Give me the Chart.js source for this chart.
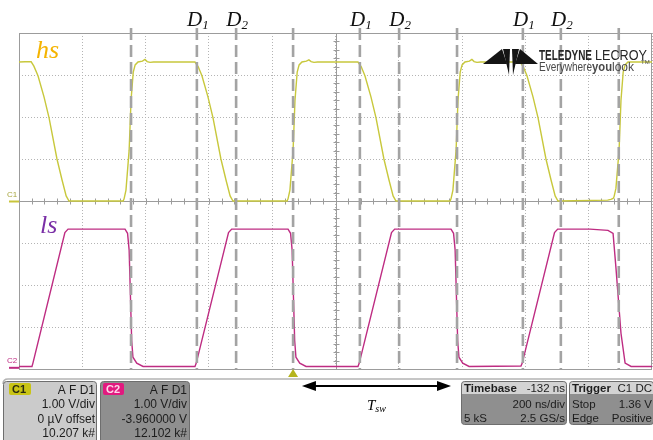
<!DOCTYPE html>
<html>
<head>
<meta charset="utf-8">
<script src="https://cdn.jsdelivr.net/npm/chart.js@4.4.1/dist/chart.umd.min.js"></script>
<style>
  html, body { margin: 0; padding: 0; background: #fff; }
  #wrap { width: 653px; height: 440px; }
</style>
</head>
<body>
<div id="wrap"><canvas id="scope" width="653" height="440"></canvas></div>
<script>
// time in ns from the left edge of the screen (200 ns/div, 10 div)
const hsTime = [0, 38, 47, 60, 79, 95, 120, 136, 149, 158,
  329, 332, 338, 348, 354, 361, 367, 376, 390, 398, 405, 414, 425,
  556, 566, 578, 597, 613, 638, 654, 667, 676,
  847, 850, 856, 866, 872, 879, 885, 894, 908, 916, 923, 932, 943,
  1071, 1081, 1093, 1112, 1128, 1153, 1169, 1182, 1191,
  1362, 1365, 1371, 1381, 1387, 1394, 1400, 1409, 1423, 1431, 1438, 1447, 1458,
  1583, 1593, 1605, 1624, 1640, 1665, 1681, 1694, 1703,
  1860, 1870, 1877, 1880, 1886, 1896, 1902, 1909, 1915, 1924, 2000];
const hsVolt = [3.31, 3.32, 3.21, 2.98, 2.48, 1.98, 1.0, 0.5, 0.12, 0,
  0, 0.05, 0.26, 1.21, 2.4, 3.07, 3.24, 3.31, 3.33, 3.37, 3.32, 3.30, 3.31,
  3.31, 3.2, 2.98, 2.48, 1.98, 1.0, 0.5, 0.12, 0,
  0, 0.05, 0.26, 1.21, 2.4, 3.07, 3.24, 3.31, 3.33, 3.36, 3.32, 3.30, 3.31,
  3.31, 3.2, 2.98, 2.48, 1.98, 1.0, 0.5, 0.12, 0,
  0, 0.05, 0.26, 1.21, 2.4, 3.07, 3.24, 3.31, 3.33, 3.37, 3.32, 3.30, 3.31,
  3.31, 3.2, 2.98, 2.48, 1.98, 1.0, 0.5, 0.12, 0,
  0.02, 0.04, 0.06, 0.1, 0.3, 1.21, 2.4, 3.07, 3.24, 3.31, 3.31];

const lsTime = [0, 41, 44, 145, 155,
  335, 343, 348, 356, 360, 372, 392,
  556, 560, 662, 672,
  850, 858, 863, 871, 875, 887, 907,
  1071, 1075, 1177, 1187,
  1365, 1373, 1378, 1386, 1390, 1402, 1422,
  1586, 1590, 1692, 1702,
  1804, 1861, 1877, 1886, 1902, 1915, 1934, 2000];
const lsVolt = [0.02, 0.02, 0.1, 3.21, 3.29,
  3.29, 3.19, 2.79, 0.64, 0.24, 0.1, 0.02,
  0.02, 0.1, 3.21, 3.29,
  3.29, 3.19, 2.79, 0.64, 0.24, 0.1, 0.02,
  0.02, 0.1, 3.21, 3.29,
  3.29, 3.19, 2.79, 0.64, 0.24, 0.1, 0.02,
  0.03, 0.1, 3.21, 3.29,
  3.29, 3.26, 3.19, 2.38, 0.81, 0.1, 0.02, 0.02];
const lsOffset = -3.96; // C2 offset

const cursorTimes = [354, 562, 686, 866, 1077, 1201, 1384, 1592, 1712, 1895];
const cursorNames = ["", "1", "2", "", "1", "2", "", "1", "2", ""];
const tswSpan = [894, 1365];
const triggerTime = 866;

const c1Lines = ["A F D1", "1.00 V/div", "0 µV offset", "10.207 k#"];
const c2Lines = ["A F D1", "1.00 V/div", "-3.960000 V", "12.102 k#"];
const timebaseRows = [["Timebase", "-132 ns"], ["", "200 ns/div"], ["5 kS", "2.5 GS/s"]];
const triggerRows = [["Trigger", "C1 DC"], ["Stop", "1.36 V"], ["Edge", "Positive"]];

const hsPoints = hsTime.map((t, i) => ({ x: t, y: hsVolt[i] }));
const lsPoints = lsTime.map((t, i) => ({ x: t, y: lsVolt[i] + lsOffset }));
const cursorPoints = [];
cursorTimes.forEach(t => {
  cursorPoints.push({ x: t, y: 4.12 }, { x: t, y: -4 }, { x: t, y: null });
});

const SERIF = '"Liberation Serif", "Times New Roman", serif';
const SANS = '"Liberation Sans", Arial, sans-serif';

function panel(ctx, x, y, w, h, fill) {
  ctx.beginPath();
  ctx.roundRect(x, y, w, h, 3);
  ctx.fillStyle = fill;
  ctx.fill();
  ctx.strokeStyle = '#6e6e6e';
  ctx.lineWidth = 1;
  ctx.stroke();
}

const scopeDecor = {
  id: 'scopeDecor',
  beforeDatasetsDraw(chart) {
    const { ctx, chartArea: a, scales: { x, y } } = chart;
    ctx.save();
    ctx.strokeStyle = '#9c9c9c';
    ctx.lineWidth = 1;
    ctx.strokeRect(a.left + 0.5, a.top + 0.5, a.right - a.left - 1, a.bottom - a.top);
    // centre axes with minor ticks
    const y0 = Math.round(y.getPixelForValue(0)) + 0.5;
    const x0 = Math.round(x.getPixelForValue(1000)) + 0.5;
    ctx.beginPath();
    ctx.moveTo(a.left, y0); ctx.lineTo(a.right, y0);
    ctx.moveTo(x0, a.top); ctx.lineTo(x0, a.bottom);
    for (let t = 40; t < 2000; t += 40) {
      const px = Math.round(x.getPixelForValue(t)) + 0.5;
      ctx.moveTo(px, y0 - 3); ctx.lineTo(px, y0 + 3);
    }
    for (let v = -3.8; v < 4; v += 0.2) {
      const py = Math.round(y.getPixelForValue(v)) + 0.5;
      ctx.moveTo(x0 - 3, py); ctx.lineTo(x0 + 3, py);
    }
    ctx.stroke();
    ctx.restore();
  },
  afterDraw(chart) {
    const { ctx, chartArea: a, scales: { x, y } } = chart;
    ctx.save();

    // trace labels
    ctx.fillStyle = '#fff';
    ctx.fillRect(26, 36, 39, 25);
    ctx.textBaseline = 'alphabetic';
    ctx.textAlign = 'left';
    ctx.font = 'italic 26px ' + SERIF;
    ctx.fillStyle = '#f5b400';
    ctx.fillText('hs', 36, 58);
    ctx.fillStyle = '#7a2fa6';
    ctx.fillText('ls', 40, 233);

    // cursor labels D1 / D2
    cursorTimes.forEach((t, i) => {
      const n = cursorNames[i];
      if (!n) return;
      const px = x.getPixelForValue(t);
      ctx.font = 'italic 21px ' + SERIF;
      const wD = ctx.measureText('D').width;
      ctx.font = 'italic 13px ' + SERIF;
      const wS = ctx.measureText(n).width;
      const left = px - (wD + wS) / 2 + 1;
      ctx.fillStyle = '#111';
      ctx.font = 'italic 21px ' + SERIF;
      ctx.fillText('D', left, 26);
      ctx.font = 'italic 13px ' + SERIF;
      ctx.fillText(n, left + wD, 29);
    });

    // channel markers at the left edge
    const yC1 = y.getPixelForValue(0);
    const yC2 = y.getPixelForValue(lsOffset);
    ctx.lineWidth = 2;
    ctx.strokeStyle = '#c8c43a';
    ctx.beginPath(); ctx.moveTo(9, yC1 + 0.5); ctx.lineTo(19, yC1 + 0.5); ctx.stroke();
    ctx.strokeStyle = '#be2c82';
    ctx.beginPath(); ctx.moveTo(9, yC2 + 0.5); ctx.lineTo(19, yC2 + 0.5); ctx.stroke();
    ctx.font = '8px ' + SANS;
    ctx.fillStyle = '#a8a640';
    ctx.fillText('C1', 7, yC1 - 4);
    ctx.fillStyle = '#be2c82';
    ctx.fillText('C2', 7, yC2 - 4);

    // logo
    ctx.fillStyle = '#141414';
    [[[483, 64], [502, 49], [507, 64]],
     [[503, 49], [510, 49], [509, 75]],
     [[512, 49], [519, 49], [513, 75]],
     [[538, 64], [520, 49], [515, 64]]].forEach(poly => {
      ctx.beginPath();
      ctx.moveTo(poly[0][0], poly[0][1]);
      poly.slice(1).forEach(p => ctx.lineTo(p[0], p[1]));
      ctx.closePath();
      ctx.fill();
    });
    ctx.fillStyle = '#262626';
    ctx.font = 'bold 14px "Liberation Sans Narrow", ' + SANS;
    ctx.fillText('TELEDYNE', 539, 60, 53);
    ctx.font = '14px "Liberation Sans Narrow", ' + SANS;
    ctx.fillText('LECROY', 595, 60, 52);
    ctx.fillStyle = '#4a4a4a';
    ctx.font = '12px ' + SANS;
    ctx.fillText('Everywhere', 539, 71, 53);
    ctx.font = 'bold 12px ' + SANS;
    ctx.fillText('you', 592, 71, 20);
    ctx.font = '12px ' + SANS;
    ctx.fillText('look', 612, 71, 28);
    ctx.font = '6px ' + SANS;
    ctx.fillText('TM', 641, 64);

    // trigger marker and separator
    const tp = x.getPixelForValue(triggerTime);
    ctx.fillStyle = '#b5b41e';
    ctx.beginPath();
    ctx.moveTo(tp - 5, 377); ctx.lineTo(tp + 5, 377); ctx.lineTo(tp, a.bottom);
    ctx.closePath(); ctx.fill();
    ctx.strokeStyle = '#b4b4b4';
    ctx.lineWidth = 1.5;
    ctx.beginPath(); ctx.moveTo(3, 384); ctx.quadraticCurveTo(3, 379, 8, 379); ctx.lineTo(653, 379); ctx.stroke();

    // T_sw arrow
    const xa = x.getPixelForValue(tswSpan[0]);
    const xb = x.getPixelForValue(tswSpan[1]);
    const ya = 386;
    ctx.strokeStyle = '#000';
    ctx.fillStyle = '#000';
    ctx.lineWidth = 2;
    ctx.beginPath(); ctx.moveTo(xa + 10, ya); ctx.lineTo(xb - 10, ya); ctx.stroke();
    ctx.beginPath(); ctx.moveTo(xa, ya); ctx.lineTo(xa + 14, ya - 5); ctx.lineTo(xa + 14, ya + 5); ctx.closePath(); ctx.fill();
    ctx.beginPath(); ctx.moveTo(xb, ya); ctx.lineTo(xb - 14, ya - 5); ctx.lineTo(xb - 14, ya + 5); ctx.closePath(); ctx.fill();
    ctx.font = 'italic 15px ' + SERIF;
    const wT = ctx.measureText('T').width;
    ctx.fillText('T', 367, 410);
    ctx.font = 'italic 10px ' + SERIF;
    ctx.fillText('sw', 367 + wT, 412);

    // channel info boxes
    const rowBase = [394, 408, 423, 437];
    panel(ctx, 3.5, 381.5, 93, 62, '#cbcbcb');
    ctx.beginPath(); ctx.roundRect(9, 383, 22, 12, 2); ctx.fillStyle = '#c9c414'; ctx.fill();
    panel(ctx, 100.5, 381.5, 89, 62, '#8f8f8f');
    ctx.beginPath(); ctx.roundRect(103, 383, 21, 12, 2); ctx.fillStyle = '#e2197f'; ctx.fill();
    ctx.font = 'bold 11px ' + SANS;
    ctx.fillStyle = '#2b2b10';
    ctx.fillText('C1', 12, 393);
    ctx.fillStyle = '#ffd6ea';
    ctx.fillText('C2', 106, 393);
    ctx.font = '12px ' + SANS;
    ctx.textAlign = 'right';
    ctx.fillStyle = '#1d1d1d';
    c1Lines.forEach((s, i) => ctx.fillText(s, 95, rowBase[i]));
    c2Lines.forEach((s, i) => ctx.fillText(s, 187, rowBase[i]));

    // timebase and trigger boxes
    const infoBox = (x0, w, rows) => {
      panel(ctx, x0 + 0.5, 381.5, w, 43, '#8f8f8f');
      ctx.beginPath(); ctx.roundRect(x0 + 1, 382, w - 1, 12, [3, 3, 0, 0]);
      ctx.fillStyle = '#d3d3d3'; ctx.fill();
      const base = [392, 408, 422];
      rows.forEach((r, i) => {
        ctx.fillStyle = '#1d1d1d';
        ctx.textAlign = 'left';
        ctx.font = (i === 0 ? 'bold 11.5px ' : '11.5px ') + SANS;
        ctx.fillText(r[0], x0 + 3, base[i]);
        ctx.textAlign = 'right';
        ctx.font = '11.5px ' + SANS;
        ctx.fillText(r[1], x0 + w - 1, base[i]);
      });
    };
    infoBox(461, 105, timebaseRows);
    infoBox(569, 84, triggerRows);

    ctx.restore();
  }
};

new Chart(document.getElementById('scope'), {
  type: 'line',
  data: {
    datasets: [
      { label: 'cursors', data: cursorPoints, borderColor: '#a3a3a3', borderWidth: 2.6,
        borderDash: [12, 5], pointRadius: 0, spanGaps: false, clip: false, order: 0 },
      { label: 'ls', data: lsPoints, borderColor: '#be2c82', borderWidth: 1.4, pointRadius: 0, order: 1 },
      { label: 'hs', data: hsPoints, borderColor: '#c8c83c', borderWidth: 1.4, pointRadius: 0, order: 2 }
    ]
  },
  options: {
    responsive: false,
    animation: false,
    devicePixelRatio: 1,
    layout: { padding: { left: 19, top: 33, right: 1, bottom: 71 } },
    elements: { line: { tension: 0 } },
    scales: {
      x: {
        type: 'linear', min: 0, max: 2000,
        ticks: { display: false, stepSize: 200 },
        grid: { color: '#b4b4b4', drawTicks: false },
        border: { display: false, dash: [1, 2] }
      },
      y: {
        type: 'linear', min: -4, max: 4,
        ticks: { display: false, stepSize: 1 },
        grid: { color: '#b4b4b4', drawTicks: false },
        border: { display: false, dash: [1, 2] }
      }
    },
    plugins: {
      legend: { display: false },
      tooltip: { enabled: false }
    }
  },
  plugins: [scopeDecor]
});
</script>
</body>
</html>
